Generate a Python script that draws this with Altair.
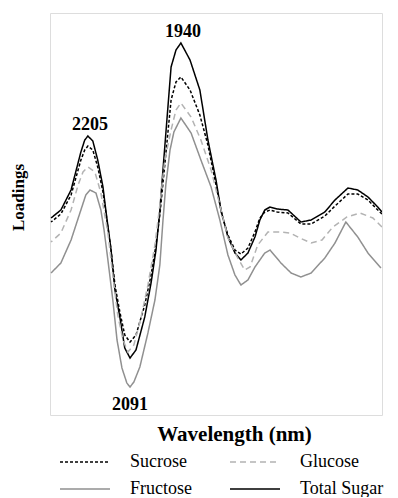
import altair as alt
import pandas as pd

# Wavelength (nm) and loading values
wl_total = [2310, 2282, 2253, 2225, 2214, 2205, 2191, 2177, 2162, 2154, 2139, 2128, 2114, 2100, 2085, 2068, 2043, 2025, 2011, 2000, 1986, 1968, 1954, 1940, 1914, 1886, 1863, 1840, 1826, 1806, 1786, 1769, 1749, 1729, 1715, 1701, 1686, 1666, 1635, 1598, 1569, 1530, 1501, 1464, 1436, 1407, 1379, 1367]
ld_total = [0.022, 0.030, 0.050, 0.088, 0.100, 0.104, 0.099, 0.080, 0.053, 0.030, -0.010, -0.050, -0.077, -0.108, -0.118, -0.110, -0.077, -0.043, -0.010, 0.030, 0.093, 0.173, 0.190, 0.197, 0.180, 0.150, 0.100, 0.060, 0.030, 0.003, -0.013, -0.020, -0.013, 0.003, 0.020, 0.030, 0.033, 0.031, 0.030, 0.018, 0.020, 0.028, 0.040, 0.052, 0.050, 0.043, 0.033, 0.028]

wl_sucrose = [2310, 2282, 2253, 2225, 2214, 2205, 2191, 2177, 2162, 2154, 2139, 2128, 2114, 2100, 2085, 2068, 2043, 2025, 2011, 2000, 1986, 1968, 1954, 1940, 1914, 1886, 1863, 1840, 1823, 1806, 1786, 1769, 1749, 1729, 1715, 1701, 1686, 1666, 1635, 1598, 1569, 1530, 1501, 1464, 1436, 1407, 1379, 1367]
ld_sucrose = [0.018, 0.026, 0.045, 0.080, 0.090, 0.094, 0.090, 0.073, 0.048, 0.028, -0.010, -0.045, -0.072, -0.095, -0.102, -0.095, -0.065, -0.035, -0.005, 0.025, 0.075, 0.140, 0.158, 0.163, 0.150, 0.125, 0.095, 0.055, 0.025, 0.005, -0.010, -0.014, -0.008, 0.008, 0.022, 0.028, 0.030, 0.028, 0.027, 0.016, 0.016, 0.024, 0.034, 0.046, 0.046, 0.040, 0.030, 0.026]

wl_glucose = [2310, 2282, 2253, 2233, 2219, 2205, 2185, 2168, 2148, 2134, 2120, 2105, 2091, 2074, 2054, 2034, 2014, 2000, 1986, 1968, 1954, 1940, 1911, 1883, 1854, 1829, 1806, 1778, 1758, 1743, 1721, 1692, 1658, 1629, 1601, 1569, 1538, 1507, 1467, 1430, 1393, 1367]
ld_glucose = [-0.002, 0.007, 0.030, 0.055, 0.068, 0.073, 0.068, 0.047, 0.007, -0.035, -0.075, -0.100, -0.112, -0.105, -0.078, -0.045, -0.005, 0.035, 0.080, 0.110, 0.130, 0.137, 0.123, 0.100, 0.070, 0.035, 0.002, -0.018, -0.030, -0.027, -0.005, 0.008, 0.008, 0.007, 0.002, -0.003, 0.000, 0.013, 0.023, 0.027, 0.022, 0.013]

wl_fructose = [2310, 2282, 2253, 2225, 2211, 2199, 2182, 2168, 2159, 2148, 2134, 2122, 2108, 2094, 2085, 2074, 2057, 2034, 2014, 2000, 1991, 1983, 1971, 1960, 1940, 1911, 1883, 1854, 1829, 1806, 1786, 1769, 1749, 1729, 1701, 1686, 1655, 1626, 1598, 1569, 1530, 1501, 1470, 1436, 1407, 1370]
ld_fructose = [-0.033, -0.023, 0.000, 0.030, 0.045, 0.050, 0.047, 0.030, 0.010, -0.020, -0.060, -0.100, -0.128, -0.143, -0.147, -0.142, -0.127, -0.093, -0.060, -0.025, 0.020, 0.055, 0.090, 0.108, 0.122, 0.107, 0.080, 0.053, 0.020, -0.015, -0.035, -0.045, -0.040, -0.027, -0.013, -0.010, -0.023, -0.033, -0.037, -0.033, -0.018, -0.003, 0.018, 0.003, -0.013, -0.028]

series_names = ["Sucrose", "Glucose", "Fructose", "Total Sugar"]
series_colors = ["#000000", "#b3b3b3", "#909090", "#000000"]
series_dash = [[3, 2], [6, 4], [1, 0], [1, 0]]

peak_labels = ["2205", "1940", "2091"]
peak_wl = [2205, 1940, 2091]
peak_ld = [0.104, 0.197, -0.147]
peak_kind = ["max", "max", "min"]

rows = []
for name, wls, lds in [("Total Sugar", wl_total, ld_total), ("Sucrose", wl_sucrose, ld_sucrose),
                       ("Glucose", wl_glucose, ld_glucose), ("Fructose", wl_fructose, ld_fructose)]:
    for w, v in zip(wls, lds):
        rows.append({"series": name, "wavelength": w, "loading": v})
df = pd.DataFrame(rows)

ann = pd.DataFrame({"label": peak_labels, "wavelength": peak_wl, "loading": peak_ld, "kind": peak_kind})

FONT = "Liberation Serif"

x = alt.X("wavelength:Q", scale=alt.Scale(domain=[2313, 1367], nice=False, zero=False),
          axis=alt.Axis(title="Wavelength (nm)", labels=False, ticks=False, grid=False, domain=False,
                        titleFont=FONT, titleFontSize=21, titleFontWeight="bold", titleColor="black",
                        titleX=184, titleY=8, titleBaseline="top", titleAnchor="start", titleAlign="center"))
y = alt.Y("loading:Q", scale=alt.Scale(domain=[-0.175, 0.227], nice=False, zero=False),
          axis=alt.Axis(title="Loadings", labels=False, ticks=False, grid=False, domain=False,
                        titleFont=FONT, titleFontSize=17, titleFontWeight="bold", titleColor="black",
                        titleX=-27, titleY=184, titleAngle=-90, titleAlign="center", titleBaseline="alphabetic"))

leg = alt.Legend(title=None, orient="none", legendX=24, legendY=438, columns=2, direction="horizontal",
                 symbolType="M-2.5,0H2.5", symbolSize=400, symbolStrokeWidth=1.6,
                 labelFont=FONT, labelFontSize=18, labelColor="black",
                 labelOffset=34, columnPadding=34, rowPadding=7)

lines = alt.Chart(df).mark_line(strokeWidth=1.5, clip=True).encode(
    x=x, y=y,
    color=alt.Color("series:N", scale=alt.Scale(domain=series_names, range=series_colors), legend=leg),
    strokeDash=alt.StrokeDash("series:N", scale=alt.Scale(domain=series_names, range=series_dash), legend=leg),
    order=alt.Order("wavelength:Q"),
)

text_base = alt.Chart(ann).encode(x="wavelength:Q", y="loading:Q", text="label:N")
texts_top = text_base.mark_text(font=FONT, fontSize=18, fontWeight="bold", color="black",
                                baseline="alphabetic", dx=2, dy=-6).transform_filter(alt.datum.kind == "max")
texts_bottom = text_base.mark_text(font=FONT, fontSize=18, fontWeight="bold", color="black",
                                   baseline="alphabetic", dx=2, dy=23).transform_filter(alt.datum.kind == "min")

chart = alt.layer(lines, texts_top, texts_bottom).properties(
    width=332, height=402,
    autosize=alt.AutoSizeParams(type="none"),
    padding={"left": 42, "top": 5, "right": 8, "bottom": 82},
).configure_view(stroke="black", strokeWidth=1.2).configure(background="white")

chart.save("out.html", embed_options={"renderer": "svg", "actions": False})
